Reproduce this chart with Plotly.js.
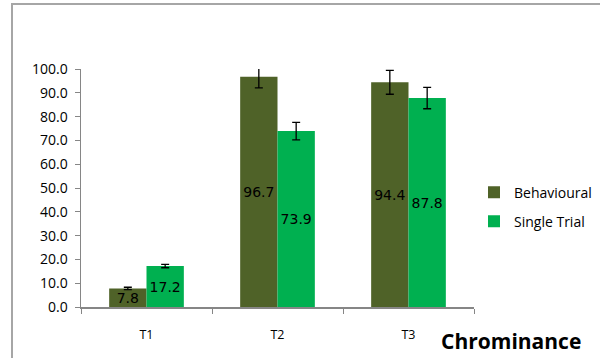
<!DOCTYPE html>
<html>
<head>
<meta charset="utf-8">
<script src="https://cdn.plot.ly/plotly-3.0.1.min.js"></script>
<style>
  html, body { margin: 0; padding: 0; background: #fff; }
  #wrap { position: relative; width: 600px; height: 358px; overflow: hidden; }
  #frame { position: absolute; left: 11px; top: 3px; width: 620px; height: 400px;
           border-top: 2px solid #a6a6a6; border-left: 2px solid #a6a6a6; pointer-events: none; }
  #chart { position: absolute; left: 0; top: 0; width: 600px; height: 358px; }
</style>
</head>
<body>
<div id="wrap">
  <div id="chart"></div>
  <div id="frame"></div>
</div>
<script>
// Test conditions
const categories = ['T1', 'T2', 'T3'];

// Behavioural scores and their error margins
const behavioural = [7.8, 96.7, 94.4];
const behaviouralErr = [0.5, 4.6, 5.0];

// Single-trial scores and their error margins
const singleTrial = [17.2, 73.9, 87.8];
const singleTrialErr = [0.7, 3.7, 4.5];

const yTicks = [0, 10, 20, 30, 40, 50, 60, 70, 80, 90, 100];

const labelFont = { family: 'DejaVu Sans, sans-serif', size: 14, color: '#000' };

function barTrace(name, values, errs, color, group) {
  return {
    type: 'bar',
    name: name,
    x: categories,
    y: values,
    marker: { color: color },
    text: values.map(v => v.toFixed(1)),
    textposition: 'inside',
    insidetextanchor: 'middle',
    textangle: 0,
    constraintext: 'none',
    textfont: labelFont,
    cliponaxis: false,
    legendgroup: group,
    hoverinfo: 'skip',
    error_y: {
      type: 'data',
      array: errs,
      visible: true,
      color: '#000',
      thickness: 1.3,
      width: 4
    }
  };
}

const data = [
  barTrace('Behavioural', behavioural, behaviouralErr, '#4f6228', 'b'),
  barTrace('Single Trial', singleTrial, singleTrialErr, '#00b050', 's')
];

const axisFont = { family: 'Open Sans, sans-serif', size: 14, color: '#000' };

const layout = {
  width: 600,
  height: 358,
  margin: { l: 81, r: 126, t: 69, b: 51, autoexpand: false },
  paper_bgcolor: '#fff',
  plot_bgcolor: '#fff',
  barmode: 'group',
  bargap: 0.43,
  bargroupgap: 0,
  showlegend: true,
  legend: {
    x: 1.0, xanchor: 'left',
    y: 0.42, yanchor: 'middle',
    traceorder: 'grouped',
    tracegroupgap: 8,
    font: { family: 'Open Sans, sans-serif', size: 14, color: '#000' },
    itemwidth: 30
  },
  title: {
    text: '<b>Chrominance</b>',
    font: { family: 'Open Sans, sans-serif', size: 21, color: '#000' },
    xref: 'container', yref: 'container',
    x: 0.852, xanchor: 'center',
    y: 0.045, yanchor: 'middle'
  },
  xaxis: {
    type: 'category',
    tickfont: { family: 'Open Sans, sans-serif', size: 12.5, color: '#000' },
    showline: true,
    linecolor: '#868686',
    linewidth: 1.5,
    ticks: 'outside',
    tickson: 'boundaries',
    ticklen: 5,
    tickcolor: '#868686',
    ticklabelstandoff: 15,
    showgrid: false,
    zeroline: false,
    fixedrange: true
  },
  yaxis: {
    range: [0, 100],
    tickvals: yTicks,
    ticktext: yTicks.map(v => v.toFixed(1)),
    tickfont: axisFont,
    showline: true,
    linecolor: '#868686',
    linewidth: 1.5,
    ticks: 'outside',
    ticklen: 5,
    tickcolor: '#868686',
    ticklabelstandoff: 4,
    showgrid: false,
    zeroline: false,
    fixedrange: true
  }
};

Plotly.newPlot('chart', data, layout, { displayModeBar: false, staticPlot: true });
</script>
</body>
</html>
